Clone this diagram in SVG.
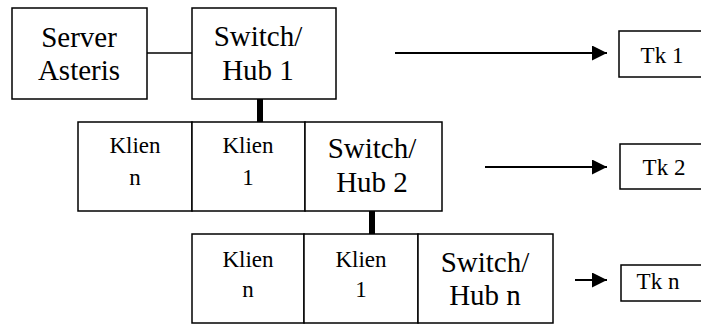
<svg xmlns="http://www.w3.org/2000/svg" width="701" height="325" viewBox="0 0 701 325">
  <defs>
    <marker id="arrow" viewBox="0 0 10 10" refX="10" refY="5" markerWidth="15" markerHeight="15" markerUnits="userSpaceOnUse" orient="auto">
      <path d="M0,0 L10,5 L0,10 Z" fill="#000"/>
    </marker>
  </defs>

  <!-- links: thin server link, thick trunks, arrows to the Tk boxes -->
  <g id="connectors" stroke="#000" fill="none">
    <line stroke-width="1.5" x1="147" y1="53" x2="192" y2="53"/>
    <line stroke-width="6" x1="260" y1="99" x2="260" y2="122"/>
    <line stroke-width="6" x1="372" y1="211" x2="372" y2="234"/>
    <g stroke-width="2" marker-end="url(#arrow)">
      <line x1="395" y1="53" x2="607" y2="53"/>
      <line x1="485" y1="167" x2="607" y2="167"/>
      <line x1="575" y1="280" x2="607" y2="280"/>
    </g>
  </g>

  <g id="nodes" font-family="Liberation Serif" text-anchor="middle" fill="#000">
    <g id="server">
      <rect fill="#fff" stroke="#000" stroke-width="1.5" x="12" y="8" width="135" height="91"/>
      <text font-size="29" x="79" y="47">Server</text>
      <text font-size="29" x="79" y="80">Asteris</text>
    </g>
    <g id="switch1">
      <rect fill="#fff" stroke="#000" stroke-width="1.5" x="192" y="8" width="144" height="91"/>
      <text font-size="29" x="258" y="46">Switch/</text>
      <text font-size="29" x="258" y="80">Hub 1</text>
    </g>

    <g id="klien-n-2">
      <rect fill="#fff" stroke="#000" stroke-width="1.5" x="78" y="122" width="114" height="89"/>
      <text font-size="23" x="135" y="153">Klien</text>
      <text font-size="23" x="135" y="185">n</text>
    </g>
    <g id="klien-1-2">
      <rect fill="#fff" stroke="#000" stroke-width="1.5" x="192" y="122" width="113" height="89"/>
      <text font-size="23" x="248" y="153">Klien</text>
      <text font-size="23" x="248" y="185">1</text>
    </g>
    <g id="switch2">
      <rect fill="#fff" stroke="#000" stroke-width="1.5" x="305" y="122" width="137" height="89"/>
      <text font-size="29" x="372" y="158">Switch/</text>
      <text font-size="29" x="372" y="192">Hub 2</text>
    </g>

    <g id="klien-n-3">
      <rect fill="#fff" stroke="#000" stroke-width="1.5" x="192" y="234" width="112" height="89"/>
      <text font-size="23" x="248" y="267">Klien</text>
      <text font-size="23" x="248" y="297">n</text>
    </g>
    <g id="klien-1-3">
      <rect fill="#fff" stroke="#000" stroke-width="1.5" x="304" y="234" width="114" height="89"/>
      <text font-size="23" x="361" y="267">Klien</text>
      <text font-size="23" x="361" y="297">1</text>
    </g>
    <g id="switchn">
      <rect fill="#fff" stroke="#000" stroke-width="1.5" x="418" y="234" width="135" height="89"/>
      <text font-size="29" x="485" y="272">Switch/</text>
      <text font-size="29" x="485" y="305">Hub n</text>
    </g>

    <g id="tk1">
      <rect fill="#fff" stroke="#000" stroke-width="1.5" x="619" y="31" width="90" height="46"/>
      <text font-size="23" x="662" y="63">Tk 1</text>
    </g>
    <g id="tk2">
      <rect fill="#fff" stroke="#000" stroke-width="1.5" x="620" y="144" width="90" height="45"/>
      <text font-size="23" x="664" y="175">Tk 2</text>
    </g>
    <g id="tkn">
      <rect fill="#fff" stroke="#000" stroke-width="1.5" x="621" y="265" width="90" height="36"/>
      <text font-size="23" x="658" y="289">Tk n</text>
    </g>
  </g>
</svg>
